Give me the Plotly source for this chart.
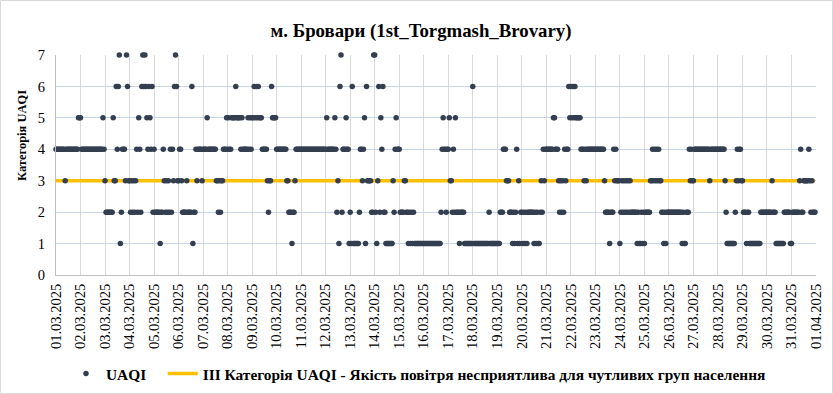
import pandas as pd
import plotly.graph_objects as go

title_text = "м. Бровари (1st_Torgmash_Brovary)"
y_title = "Категорія UAQI"
series_name = "UAQI"
threshold_name = "III Категорія UAQI - Якість повітря несприятлива для чутливих груп населення"
threshold_value = 3
y_ticks = [0, 1, 2, 3, 4, 5, 6, 7]
day_ticks = pd.date_range("2025-03-01", "2025-04-01", freq="D")
day_tick_labels = [d.strftime("%d.%m.%Y") for d in day_ticks]

# hourly UAQI category, one string of 24 hourly values per day (01.03 ... 31.03)
uaqi_by_day = [
    "444444444344444444444455",  # 01.03
    "544444444444444444444454",  # 02.03
    "322222225336467124443763",  # 03.03
    "323232342542676765465462",  # 04.03
    "422222122432323242436763",  # 05.03
    "344322223222261224344443",  # 06.03
    "444454444444433232334445",  # 07.03
    "454455556555545444445454",  # 08.03
    "556565655544444323365555",  # 09.03
    "444444444433222122344444",  # 10.03
    "444444444444444444444444",  # 11.03
    "454444444542316724445441",  # 12.03
    "216111111244345163333227",  # 13.03
    "721362546221111111324544",  # 14.03
    "422223322121212111111111",  # 15.03
    "111111111111111112454424",  # 16.03
    "453324252221222211111111",  # 17.03
    "611111111111111121111111",  # 18.03
    "111222444333222121241312",  # 19.03
    "212121222222121211232434",  # 20.03
    "444444455444323232434465",  # 21.03
    "656565555544434344444444",  # 22.03
    "444444444322221222434333",  # 23.03
    "123232323232222221211212",  # 24.03
    "122222334343434332212122",  # 25.03
    "222222222222212112224343",  # 26.03
    "344444444444444434444444",  # 27.03
    "444444432111111112343443",  # 28.03
    "322212211111111111222222",  # 29.03
    "222223222111111112222221",  # 30.03
    "122222223422333334323222",  # 31.03
]
assert all(len(s) == 24 for s in uaqi_by_day), [i for i, s in enumerate(uaqi_by_day) if len(s) != 24]

uaqi = [int(c) for s in uaqi_by_day for c in s]
times = pd.date_range("2025-03-01 00:00", periods=len(uaqi), freq="h")

W, H = 833, 394
L, R, T, B = 56, 17, 55, 119
PW, PH = W - L - R, H - T - B
FONT = "Liberation Serif"

fig = go.Figure()
fig.add_trace(go.Scatter(
    x=times, y=[threshold_value] * len(times), mode="lines",
    name="<b>" + threshold_name + "</b>",
    line=dict(color="#ffc000", width=3.5), legendrank=2, hoverinfo="skip",
))
fig.add_trace(go.Scatter(
    x=times, y=uaqi, mode="markers",
    name="<b>" + series_name + "</b>" + "&nbsp;" * 3,
    marker=dict(color="#333f50", size=5.5), cliponaxis=False, legendrank=1,
))

fig.update_layout(
    width=W, height=H,
    margin=dict(l=L, r=R, t=T, b=B, autoexpand=False),
    paper_bgcolor="white", plot_bgcolor="white",
    font=dict(family=FONT, size=14, color="#000000"),
    title=dict(text="<b>" + title_text + "</b>", x=421 / W, xref="container", xanchor="center",
               y=1 - 30 / H, yref="container", yanchor="middle",
               font=dict(family=FONT, size=18.8, color="#000000")),
    legend=dict(orientation="h", x=(66 - L) / PW, xanchor="left",
                y=(T + PH - 374) / PH, yanchor="middle",
                font=dict(family=FONT, size=15.4, color="#000000"),
                bgcolor="rgba(0,0,0,0)", traceorder="normal"),
    showlegend=True,
)

fig.update_xaxes(
    type="date", range=[day_ticks[0], day_ticks[-1]],
    tickmode="array", tickvals=day_ticks, ticktext=day_tick_labels,
    tickangle=-90, tickfont=dict(family=FONT, size=14.5, color="#000000"),
    showgrid=True, gridcolor="#d9d9d9", gridwidth=1,
    showline=True, linecolor="#bfbfbf", linewidth=1,
    ticks="", zeroline=False, automargin=False, ticklabelstandoff=2,
)
fig.update_yaxes(
    range=[0, 7], tickmode="array", tickvals=y_ticks,
    tickfont=dict(family=FONT, size=14.5, color="#000000"),
    showgrid=True, gridcolor="#c9d5ea", gridwidth=1,
    showline=True, linecolor="#bfbfbf", linewidth=1,
    ticks="", zeroline=False, automargin=False, ticklabelstandoff=7,
)

fig.add_annotation(
    text="<b>" + y_title + "</b>", textangle=-90,
    xref="paper", yref="paper", x=0, y=(T + PH - 136) / PH,
    xanchor="center", yanchor="middle", xshift=22 - L, showarrow=False,
    font=dict(family=FONT, size=12.5, color="#000000"),
)

# light outer border around the whole chart
fig.add_shape(
    type="rect", xref="paper", yref="paper",
    x0=(0.5 - L) / PW, x1=(W - 0.5 - L) / PW,
    y0=(T + PH - (H - 0.5)) / PH, y1=(T + PH - 0.5) / PH,
    line=dict(color="#d9d9d9", width=1), fillcolor="rgba(0,0,0,0)", layer="below",
)

fig.write_html(
    "out.html",
    config={"displayModeBar": False},
    post_script="document.body.style.margin='0';document.body.style.padding='0';",
)
